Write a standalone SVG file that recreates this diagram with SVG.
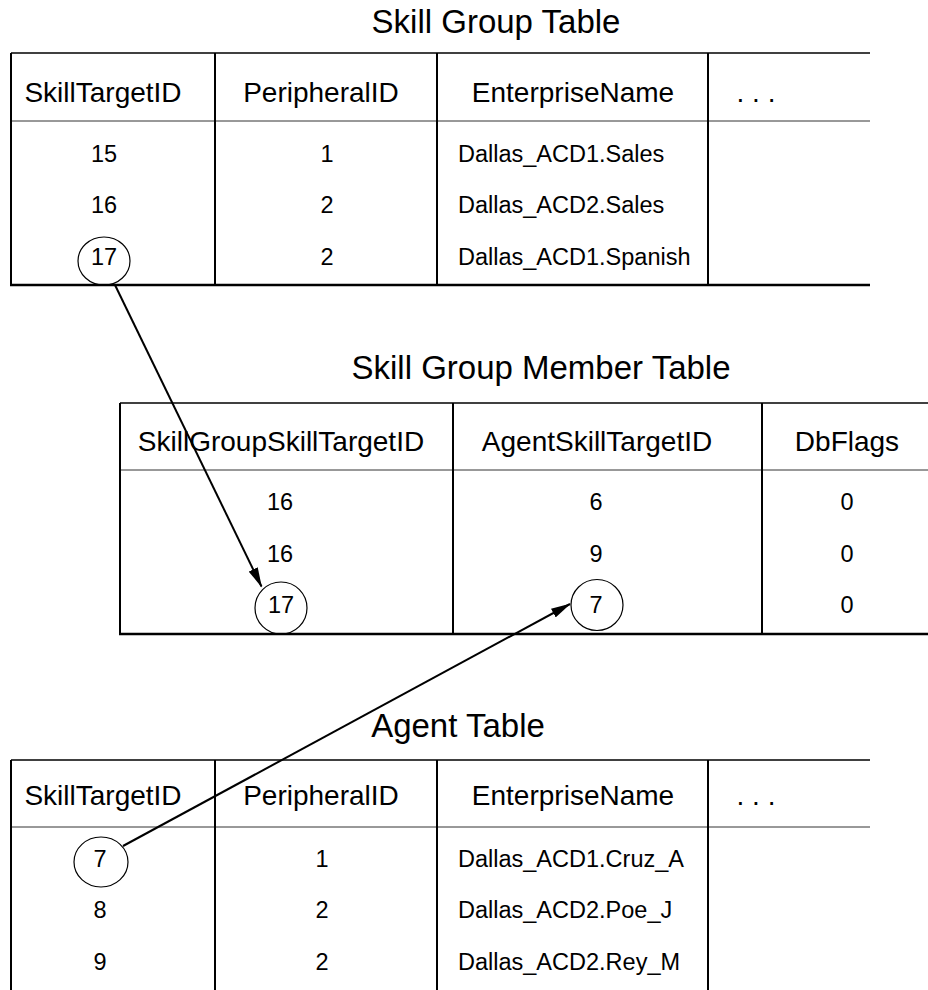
<svg xmlns="http://www.w3.org/2000/svg" width="928" height="990" viewBox="0 0 928 990">
<style>
text{font-family:"Liberation Sans",Arial,sans-serif;fill:#000}
.title{font-size:33px;text-anchor:middle}
.hd{font-size:28px;text-anchor:middle}
.dc{font-size:23.5px;text-anchor:middle}
.dl{font-size:23.5px;text-anchor:start}
.v{stroke:#000;stroke-width:2;fill:none}
.top{stroke:#000;stroke-width:1.5;fill:none}
.hdl{stroke:#333;stroke-width:1;fill:none}
.bot{stroke:#000;stroke-width:2.5;fill:none}
.ring{stroke:#000;stroke-width:1.2;fill:none}
.conn{stroke:#000;stroke-width:2;fill:none}
</style>
<defs>
<marker id="ah" viewBox="0 0 20 10" refX="19" refY="5" markerWidth="20" markerHeight="10" markerUnits="userSpaceOnUse" orient="auto">
<path d="M0,0 L20,5 L0,10 z" fill="#000"/>
</marker>
</defs>
<rect width="928" height="990" fill="#fff"/>

<g id="skill-group-table">
<text class="title" x="496" y="33">Skill Group Table</text>
<line class="top" x1="11" y1="53" x2="870" y2="53"/>
<line class="hdl" x1="11" y1="121" x2="870" y2="121"/>
<line class="bot" x1="10" y1="285" x2="870" y2="285"/>
<line class="v" x1="11" y1="53" x2="11" y2="285"/>
<line class="v" x1="215" y1="53" x2="215" y2="285"/>
<line class="v" x1="437" y1="53" x2="437" y2="285"/>
<line class="v" x1="708" y1="53" x2="708" y2="285"/>
<text class="hd" x="103" y="102">SkillTargetID</text>
<text class="hd" x="321" y="102">PeripheralID</text>
<text class="hd" x="573" y="102">EnterpriseName</text>
<text class="hd" x="756" y="102">. . .</text>
<text class="dc" x="104" y="162">15</text>
<text class="dc" x="104" y="213">16</text>
<text class="dc" x="104" y="265">17</text>
<text class="dc" x="327" y="162">1</text>
<text class="dc" x="327" y="213">2</text>
<text class="dc" x="327" y="265">2</text>
<text class="dl" x="458" y="162">Dallas_ACD1.Sales</text>
<text class="dl" x="458" y="213">Dallas_ACD2.Sales</text>
<text class="dl" x="458" y="265">Dallas_ACD1.Spanish</text>
<ellipse class="ring" cx="104" cy="261" rx="26" ry="24"/>
</g>

<g id="skill-group-member-table">
<text class="title" x="541" y="379">Skill Group Member Table</text>
<line class="top" x1="120" y1="403" x2="928" y2="403"/>
<line class="hdl" x1="120" y1="470" x2="928" y2="470"/>
<line class="bot" x1="119" y1="634" x2="928" y2="634"/>
<line class="v" x1="120" y1="403" x2="120" y2="634"/>
<line class="v" x1="453" y1="403" x2="453" y2="634"/>
<line class="v" x1="762" y1="403" x2="762" y2="634"/>
<text class="hd" x="281" y="451">SkillGroupSkillTargetID</text>
<text class="hd" x="597" y="451">AgentSkillTargetID</text>
<text class="hd" x="847" y="451">DbFlags</text>
<text class="dc" x="280" y="510">16</text>
<text class="dc" x="280" y="562">16</text>
<text class="dc" x="281" y="613">17</text>
<text class="dc" x="596" y="510">6</text>
<text class="dc" x="596" y="562">9</text>
<text class="dc" x="596" y="613">7</text>
<text class="dc" x="847" y="510">0</text>
<text class="dc" x="847" y="562">0</text>
<text class="dc" x="847" y="613">0</text>
<ellipse class="ring" cx="281" cy="608" rx="26" ry="26"/>
<ellipse class="ring" cx="597" cy="605" rx="26" ry="25.5"/>
</g>

<g id="agent-table">
<text class="title" x="458" y="737">Agent Table</text>
<line class="top" x1="11" y1="760" x2="870" y2="760"/>
<line class="hdl" x1="11" y1="827" x2="870" y2="827"/>
<line class="v" x1="11" y1="760" x2="11" y2="990"/>
<line class="v" x1="215" y1="760" x2="215" y2="990"/>
<line class="v" x1="437" y1="760" x2="437" y2="990"/>
<line class="v" x1="708" y1="760" x2="708" y2="990"/>
<text class="hd" x="103" y="805">SkillTargetID</text>
<text class="hd" x="321" y="805">PeripheralID</text>
<text class="hd" x="573" y="805">EnterpriseName</text>
<text class="hd" x="756" y="805">. . .</text>
<text class="dc" x="100" y="867">7</text>
<text class="dc" x="100" y="918">8</text>
<text class="dc" x="100" y="970">9</text>
<text class="dc" x="322" y="867">1</text>
<text class="dc" x="322" y="918">2</text>
<text class="dc" x="322" y="970">2</text>
<text class="dl" x="458" y="867">Dallas_ACD1.Cruz_A</text>
<text class="dl" x="458" y="918">Dallas_ACD2.Poe_J</text>
<text class="dl" x="458" y="970">Dallas_ACD2.Rey_M</text>
<ellipse class="ring" cx="101" cy="862" rx="27" ry="25"/>
</g>

<g id="connectors">
<line class="conn" x1="115" y1="285" x2="261.5" y2="586.5" marker-end="url(#ah)"/>
<line class="conn" x1="123" y1="846" x2="570" y2="604" marker-end="url(#ah)"/>
</g>
</svg>
